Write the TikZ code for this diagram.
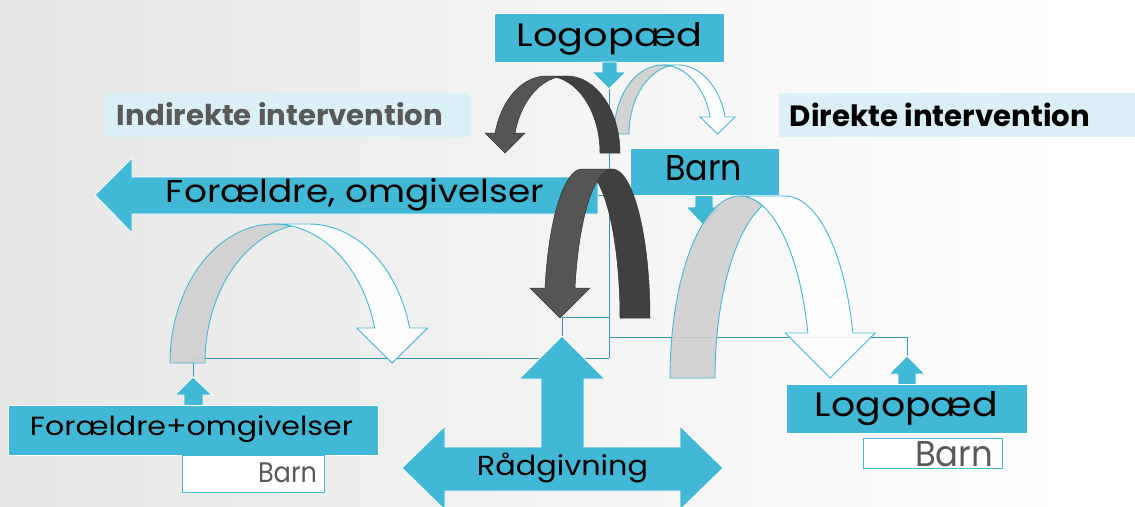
\documentclass[tikz,border=0pt]{standalone}
\usepackage{fontspec}
\setmainfont{Poppins}
\usepackage{graphicx}
\definecolor{cy}{HTML}{41B8D5}
\definecolor{conncol}{HTML}{3196AE}
\definecolor{lbl}{HTML}{DAF0F6}
\definecolor{txtgray}{HTML}{595959}
\definecolor{bandgray}{HTML}{D0D0D0}
\definecolor{darkA}{HTML}{404040}
\definecolor{darkB}{HTML}{555555}
\definecolor{bgA}{HTML}{D9D9D9}
\definecolor{bgB}{HTML}{EEEEEE}
\pgfdeclarehorizontalshading{bgshade}{100bp}{color(0bp)=(bgA); color(40bp)=(bgB); color(72bp)=(white); color(100bp)=(white)}
\newcommand{\fitt}[3]{\resizebox{#1pt}{#2pt}{#3}}
\newcommand{\LightArrow}[7]{%
 \pgfmathsetmacro{\la}{acos(#5/(2*#3))}%
 \pgfmathsetmacro{\lph}{asin((#2-#6)/#4)}%
 \pgfmathsetmacro{\lxc}{#1+#5/2+#3*cos(\lph)}%
 \pgfmathsetmacro{\ltop}{#2-#4}%
 \path[lightback] plot[domain=-180:-\la] ({#1+#3*cos(\x)},{#2+#4*sin(\x)}) -- plot[domain=-180+\la:-180] ({#1+#5+#3*cos(\x)},{#2+#4*sin(\x)}) -- cycle;
 \path[lightfront] (#1,\ltop) -- (#1+#5,\ltop) -- plot[domain=-90:-\lph] ({#1+#5+#3*cos(\x)},{#2+#4*sin(\x)}) -- (\lxc+#7,#6) -- (\lxc,#2) -- (\lxc-#7,#6) -- plot[domain=-\lph:-90] ({#1+#3*cos(\x)},{#2+#4*sin(\x)}) -- cycle;
}
\newcommand{\DarkArrow}[7]{%
 \pgfmathsetmacro{\la}{acos(#5/(2*#3))}%
 \pgfmathsetmacro{\lph}{asin((#2-#6)/#4)}%
 \pgfmathsetmacro{\lxc}{#1-#5/2-#3*cos(\lph)}%
 \pgfmathsetmacro{\ltop}{#2-#4}%
 \path[darkback] plot[domain=0:-180+\la] ({#1+#3*cos(\x)},{#2+#4*sin(\x)}) -- plot[domain=-\la:0] ({#1-#5+#3*cos(\x)},{#2+#4*sin(\x)}) -- cycle;
 \path[darkfront] (#1,\ltop) -- (#1-#5,\ltop) -- plot[domain=-90:-180+\lph] ({#1-#5+#3*cos(\x)},{#2+#4*sin(\x)}) -- (\lxc-#7,#6) -- (\lxc,#2) -- (\lxc+#7,#6) -- plot[domain=-180+\lph:-90] ({#1+#3*cos(\x)},{#2+#4*sin(\x)}) -- cycle;
}
\begin{document}
\begin{tikzpicture}[x=1pt,y=-1pt,
  samples=40,
  cyanbox/.style={rectangle, fill=cy, draw=white, line width=0.8pt, inner sep=0pt, outer sep=0pt},
  whitebox/.style={rectangle, fill=white, draw=cy, line width=1pt, inner sep=0pt, outer sep=0pt},
  labelbox/.style={rectangle, fill=lbl, inner sep=0pt, outer sep=0pt},
  cyanshape/.style={fill=cy, draw=white, line width=0.8pt, line join=miter},
  conn/.style={draw=conncol, line width=1pt},
  txt/.style={anchor=base, inner sep=0pt, outer sep=0pt},
  lightback/.style={fill=bandgray, fill opacity=0.9, draw=cy, draw opacity=1, line width=0.9pt, line join=round},
  lightfront/.style={fill=white, fill opacity=0.88, draw=cy, draw opacity=1, line width=0.9pt, line join=miter},
  darkback/.style={fill=darkA, draw=darkA!80!black, line width=0.5pt},
  darkfront/.style={fill=darkB, draw=darkA!80!black, line width=0.5pt, line join=miter}]
\useasboundingbox (0,0) rectangle (1135,506);
\clip (0,0) rectangle (1135,506);
\shade[shading=bgshade] (0,0) rectangle (1135,506);

% named connector points
\coordinate (tTop) at (609,89);
\coordinate (jF) at (609,195);
\coordinate (endFO) at (598,195);
\coordinate (jMid) at (609,317);
\coordinate (cornerR) at (562,317);
\coordinate (tipRG) at (562,336);
\coordinate (jR) at (609,337);
\coordinate (cornerLR) at (907,337);
\coordinate (tipLR) at (907,356);
\coordinate (jLow) at (609,358);
\coordinate (cornerL) at (193,358);
\coordinate (tipFO) at (193,377);

% connectors
\draw[conn] (tTop) -- (jLow);
\draw[conn] (jLow) -- (cornerL) -- (tipFO);
\draw[conn] (jMid) -- (cornerR) -- (tipRG);
\draw[conn] (jR) -- (cornerLR) -- (tipLR);
\draw[conn] (endFO) -- (jF);

% label boxes
\node[labelbox, minimum width=365pt, minimum height=44pt] (indLabel) at (287.5,115) {};
\node[labelbox, minimum width=356pt, minimum height=44pt] (dirLabel) at (957,115) {};
\node[txt, text=txtgray] (indText) at (280,125) {\fitt{326}{23}{\bfseries Indirekte intervention}};
\node[txt, text=black] (dirText) at (940,126.5) {\fitt{300}{23.5}{\bfseries Direkte intervention}};

% top Logopaed box and arrow
\node[cyanbox, minimum width=230pt, minimum height=49pt] (logoTop) at (609,37.5) {};
\path[cyanshape] (602,62) -- (602,72) -- (592,72) -- (tTop) -- (626,72) -- (617,72) -- (617,62) -- cycle;
\node[txt] (logoTopText) at (609.5,46) {\fitt{185}{24}{Logopæd}};

% Barn box and its arrow
\path[cyanshape] (695,194) -- (695,207) -- (686,207) -- (704,226) -- (722,207) -- (713,207) -- (713,194) -- cycle;
\node[cyanbox, minimum width=149pt, minimum height=47pt] (barnBox) at (704.5,171.5) {};
\node[txt] (barnText) at (703.5,180) {\fitt{77}{25}{Barn}};

% big left arrow
\path[cyanshape] (95,195) -- (132,158) -- (132,177) -- (endFO |- 0,177) -- (endFO |- 0,214) -- (132,214) -- (132,233) -- cycle;
\node[txt] (foArrowText) at (355,202) {\fitt{378}{24}{Forældre, omgivelser}};

% Foraeldre+omgivelser box
\path[cyanshape] (tipFO) -- (212,395) -- (203,395) -- (203,406) -- (184,406) -- (184,395) -- (175,395) -- cycle;
\node[cyanbox, minimum width=370pt, minimum height=50pt] (foBox) at (193,430) {};
\node[txt] (foText) at (191.5,435) {\fitt{323}{20}{Forældre+omgivelser}};
\node[whitebox, minimum width=142pt, minimum height=37pt] (barnL) at (253,473.5) {};
\node[txt, text=txtgray] (barnLText) at (287.5,482.7) {\fitt{59}{19.7}{Barn}};

% right Logopaed box
\path[cyanshape] (tipLR) -- (925,374) -- (916,374) -- (916,385) -- (898,385) -- (898,374) -- (889,374) -- cycle;
\node[cyanbox, minimum width=241pt, minimum height=49pt] (logoR) at (906.5,408.5) {};
\node[txt] (logoRText) at (906.5,416.7) {\fitt{183}{25}{Logopæd}};
\node[whitebox, minimum width=139pt, minimum height=30pt] (barnR) at (932.5,453) {};
\node[txt, text=txtgray] (barnRText) at (954,466.7) {\fitt{78}{25}{Barn}};

% Raadgivning cross arrow
\path[cyanshape] (402,468) -- (445,426) -- (445,447) -- (541,447) -- (541,379) -- (519,379) -- (tipRG) -- (605,379) -- (584,379) -- (584,447) -- (680,447) -- (680,426) -- (723,468) -- (680,510) -- (680,491) -- (445,491) -- (445,510) -- cycle;
\node[txt] (rgText) at (562.5,475) {\fitt{171}{22.5}{Rådgivning}};

% curved arrows
\LightArrow{662.8}{134}{48.8}{69}{15}{117}{17.5}
\DarkArrow{566.6}{153}{53.4}{77}{20}{133}{20}
\LightArrow{274}{363}{104}{139}{35}{328}{35.5}
\LightArrow{740}{378}{70}{182}{45}{333}{45}
\DarkArrow{612.1}{318}{37.9}{149}{30}{288}{30}
\end{tikzpicture}
\end{document}
